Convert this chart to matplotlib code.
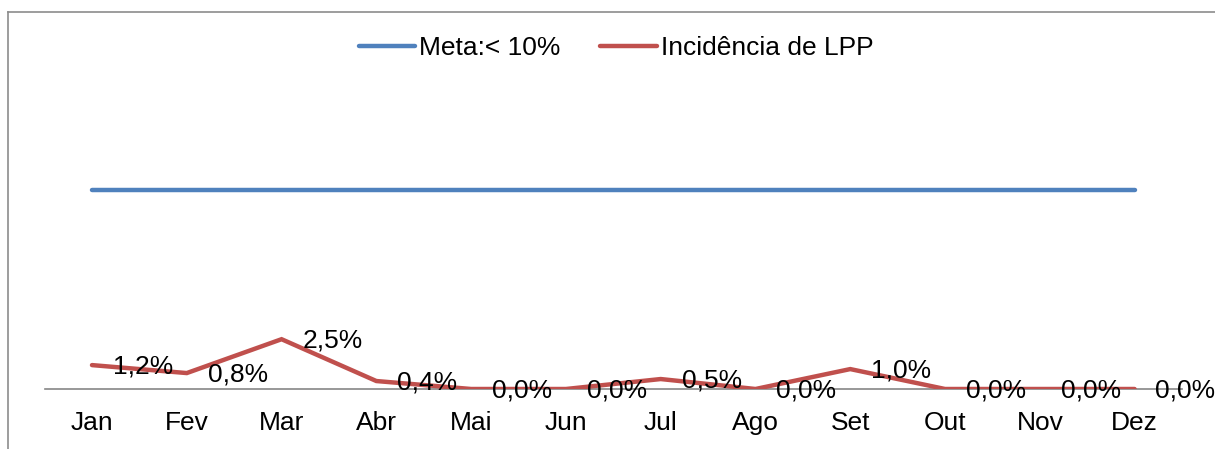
import matplotlib
matplotlib.use("Agg")
import matplotlib.pyplot as plt
from matplotlib.lines import Line2D

plt.rcParams['font.family'] = ['Liberation Sans', 'DejaVu Sans']

months = ["Jan", "Fev", "Mar", "Abr", "Mai", "Jun", "Jul", "Ago", "Set", "Out", "Nov", "Dez"]
meta = [10.0] * 12
incidencia = [1.2, 0.8, 2.5, 0.4, 0.0, 0.0, 0.5, 0.0, 1.0, 0.0, 0.0, 0.0]
meta_label = "Meta:< 10%"
inc_label = "Incidência de LPP"

BLUE = "#4F81BD"
RED = "#C0504D"
FS = 19

W, H = 1215, 449
fig = plt.figure(figsize=(W / 100, H / 100), dpi=100)
ax = fig.add_axes([44.6 / W, (H - 389) / H, (1182 - 44.6) / W, 239 / H])

x = list(range(len(months)))
l1, = ax.plot(x, meta, color=BLUE, lw=3.2, solid_capstyle='round', label=meta_label, zorder=3)
l2, = ax.plot(x, incidencia, color=RED, lw=3.2, solid_capstyle='round',
              solid_joinstyle='miter', label=inc_label, zorder=4)

for xi, v in zip(x, incidencia):
    ax.annotate(f"{v:.1f}%".replace(".", ","), (xi, v), xytext=(15, -1),
                textcoords='offset points', ha='left', va='center',
                fontsize=FS, color='black', zorder=5)

ax.set_xlim(-0.5, len(months) - 0.5)
ax.set_ylim(0, 12)
ax.set_xticks(x)
ax.set_xticklabels(months, fontsize=FS)
ax.tick_params(axis='x', length=0, pad=16)
ax.set_yticks([])
for s in ['top', 'right', 'left']:
    ax.spines[s].set_visible(False)
ax.spines['bottom'].set_color('#868686')
ax.spines['bottom'].set_linewidth(1.2)
ax.spines['bottom'].set_zorder(2)
ax.patch.set_alpha(0)

fig.legend(handles=[l1, l2], loc='center', bbox_to_anchor=(616 / W, 1 - 48 / H),
           ncol=2, frameon=False, fontsize=FS, handlelength=2.15, handletextpad=0.15,
           columnspacing=1.5)

# chart border (top and left visible)
fig.add_artist(Line2D([8 / W, 1.0], [1 - 12 / H, 1 - 12 / H], transform=fig.transFigure,
                      color='#8c8c8c', lw=1.2))
fig.add_artist(Line2D([8 / W, 8 / W], [0, 1 - 12 / H], transform=fig.transFigure,
                      color='#8c8c8c', lw=1.2))

fig.savefig("out.png", dpi=100)
